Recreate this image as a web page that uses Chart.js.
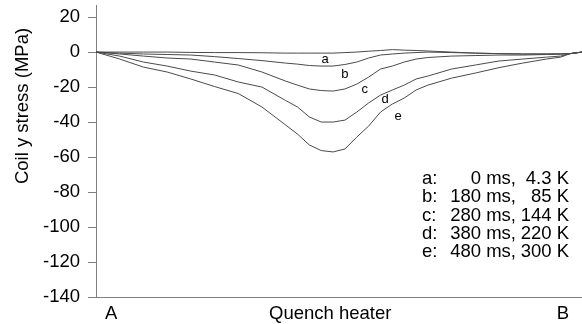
<!DOCTYPE html>
<html>
<head>
<meta charset="utf-8">
<script src="https://cdn.jsdelivr.net/npm/chart.js@4.4.1/dist/chart.umd.min.js"></script>
<style>
  html, body { margin: 0; padding: 0; background: #fff; }
  #wrap { width: 582px; height: 324px; }
</style>
</head>
<body>
<div id="wrap"><canvas id="chart" width="582" height="324"></canvas></div>
<script>
// Position along the coil, A = 0 ... B = 100 (line runs a little past B)
const xPos = [0, 5, 10, 15, 20, 25, 30, 35, 40, 42.5, 45, 47.5, 50, 52.5, 55, 57.5,
              60, 62.5, 65, 67.5, 70, 75, 80, 85, 90, 95, 98, 100, 102.5];

// Coil y stress (MPa) for each time step
const stressA = [0, 0, 0, 0, -0.2, -0.3, -0.3, -0.4, -0.6, -0.6, -0.6, -0.6, -0.6, -0.3, 0, 0.5,
                 0.9, 1.4, 1.1, 0.9, 0.6, 0, -0.6, -0.9, -1.1, -1.1, -1.1, -0.9, 0];
const stressB = [0, -0.6, -1.1, -1.4, -1.7, -2.6, -3.7, -4.9, -6.3, -6.9, -7.7, -8, -8, -7.1, -5.7, -3.4,
                 -1.7, -1.1, -0.6, -0.3, 0, -0.3, -0.6, -0.9, -1.1, -1.1, -1.1, -0.9, 0];
const stressC = [0, -1.1, -2.3, -3.4, -4, -5.7, -7.4, -11.4, -16.6, -18.9, -21.1, -22, -22.3, -21.1, -18.3, -14.3,
                 -9.7, -8, -5.7, -4, -3.1, -2.3, -2, -1.7, -1.7, -1.4, -1.1, -0.9, 0];
const stressD = [0, -2.3, -5.7, -8, -10.9, -13.1, -17.1, -20, -27.7, -31.4, -37.1, -40, -40, -38.9, -34.3, -29.1,
                 -24.6, -21.7, -18.9, -15.4, -13.7, -9.7, -7.4, -5.1, -4, -2.9, -2.3, -0.9, 0];
const stressE = [0, -4, -8.6, -11.4, -15.4, -19.7, -23.7, -31.4, -41.7, -46.9, -53.1, -56.3, -57.1, -55.4, -48.6, -42.3,
                 -34.3, -29.7, -26.3, -21.7, -18.9, -14.9, -12, -8.9, -6.3, -4, -2.9, -0.9, 0];

// Curve letters and where they sit (data units)
const curveNames = ['a', 'b', 'c', 'd', 'e'];
const labelX = [48.3, 52.5, 56.7, 61.0, 63.7];
const labelY = [-4.0, -12.6, -21.1, -26.9, -36.6];

// Axis ticks
const yTicks = [20, 0, -20, -40, -60, -80, -100, -120, -140];
const xTickVals = [3.2, 49.4, 98.5];
const xTickText = ['A', 'Quench heater', 'B'];

// Legend block text
const legendKeys = ['a:', 'b:', 'c:', 'd:', 'e:'];
const legendTimes = ['0 ms,', '180 ms,', '280 ms,', '380 ms,', '480 ms,'];
const legendTemps = ['4.3 K', '85 K', '144 K', '220 K', '300 K'];

const FAMILY = '"Liberation Sans", Arial, sans-serif';
const FONT_PX = 18.5;
const LINE_COLOR = '#4a4a4a';
const AXIS_COLOR = '#808080';

function series(vals) {
  return {
    data: vals.map((v, i) => ({ x: xPos[i], y: v })),
    borderColor: LINE_COLOR,
    borderWidth: 1,
    pointRadius: 0,
    tension: 0,
    fill: false,
  };
}

// Draws the curve letters, the legend block and the rotated y title
const annotate = {
  id: 'annotate',
  afterDatasetsDraw(chart) {
    const { ctx, scales: { x, y } } = chart;
    ctx.save();
    ctx.fillStyle = '#000';

    ctx.font = '13px ' + FAMILY;
    ctx.textAlign = 'center';
    ctx.textBaseline = 'middle';
    curveNames.forEach((n, i) => {
      ctx.fillText(n, x.getPixelForValue(labelX[i]), y.getPixelForValue(labelY[i]));
    });

    ctx.font = FONT_PX + 'px ' + FAMILY;
    ctx.textBaseline = 'alphabetic';
    legendKeys.forEach((k, i) => {
      const by = 184 + i * 18.3;
      ctx.textAlign = 'left';
      ctx.fillText(k, 422, by);
      ctx.textAlign = 'right';
      ctx.fillText(legendTimes[i], 516, by);
      ctx.fillText(legendTemps[i], 569, by);
    });

    ctx.translate(23, 106);
    ctx.rotate(-Math.PI / 2);
    ctx.textAlign = 'center';
    ctx.textBaseline = 'middle';
    ctx.fillText('Coil y stress (MPa)', 0, 0);
    ctx.restore();
  }
};

new Chart(document.getElementById('chart'), {
  type: 'line',
  data: {
    datasets: [series(stressA), series(stressB), series(stressC), series(stressD), series(stressE)],
  },
  options: {
    responsive: false,
    animation: false,
    layout: { padding: { top: 5, left: 0, right: 0, bottom: 0 } },
    plugins: {
      legend: { display: false },
      tooltip: { enabled: false },
    },
    scales: {
      x: {
        type: 'linear',
        min: 0,
        max: 102.5,
        afterBuildTicks: s => { s.ticks = xTickVals.map(v => ({ value: v })); },
        afterFit: s => { s.height = 27; s.paddingLeft = 0; s.paddingRight = 0; },
        ticks: {
          callback: (v, i) => xTickText[i],
          font: { family: FAMILY, size: FONT_PX },
          color: '#000',
          padding: 6,
          maxRotation: 0,
          autoSkip: false,
        },
        grid: { drawOnChartArea: false, drawTicks: false },
        border: { color: AXIS_COLOR, width: 1 },
      },
      y: {
        min: -140,
        max: 26.9,
        afterBuildTicks: s => { s.ticks = yTicks.map(v => ({ value: v })); },
        afterFit: s => { s.width = 96; s.paddingTop = 0; s.paddingBottom = 0; },
        ticks: {
          font: { family: FAMILY, size: FONT_PX },
          color: '#000',
          padding: 8,
        },
        grid: { drawOnChartArea: false, tickLength: 8, color: AXIS_COLOR },
        border: { color: AXIS_COLOR, width: 1 },
      },
    },
  },
  plugins: [annotate],
});
</script>
</body>
</html>
